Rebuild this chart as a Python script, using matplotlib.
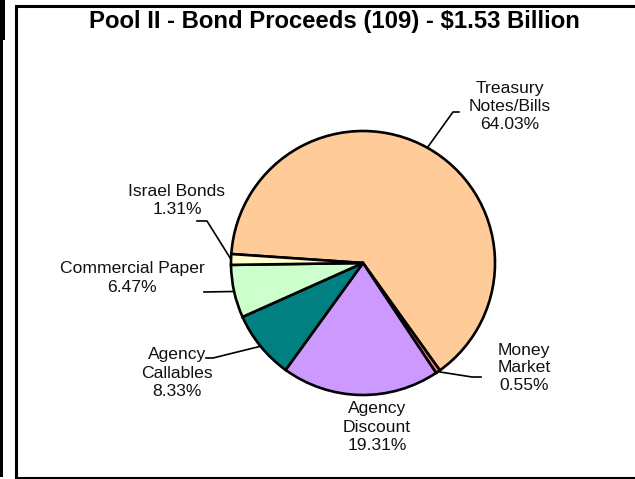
import numpy as np
import matplotlib
matplotlib.use("Agg")
import matplotlib.pyplot as plt
from matplotlib.patches import Rectangle

plt.rcParams['font.family'] = ['Liberation Sans', 'DejaVu Sans']

title = "Pool II - Bond Proceeds (109) - $1.53 Billion"
categories = ["Treasury\nNotes/Bills", "Money\nMarket", "Agency\nDiscount",
              "Agency\nCallables", "Commercial Paper", "Israel Bonds"]
shares = [64.03, 0.55, 19.31, 8.33, 6.47, 1.31]
colors = ["#FFCC99", "#FF8080", "#CC99FF", "#008080", "#CCFFCC", "#FFFFCC"]

W, H = 635, 479
fig = plt.figure(figsize=(W / 100, H / 100), dpi=100)
ax = fig.add_axes([0, 0, 1, 1])


def py(y):
    # pixel row (from top) to axis y
    return H - y


cx, cy, r = 363, py(263), 132
wedges, _ = ax.pie(shares, colors=colors, startangle=176.1, counterclock=False,
                   center=(cx, cy), radius=r, frame=True,
                   wedgeprops=dict(edgecolor='black', linewidth=1.9))
ax.set_xlim(0, W)
ax.set_ylim(0, H)
ax.set_aspect('equal')
ax.axis('off')

# frame pieces
ax.add_patch(Rectangle((0, py(40)), 5, 40, color='black', lw=0))
ax.add_patch(Rectangle((0, py(477)), 3, 437, color='black', lw=0))
ax.plot([16, 16, W + 5], [py(478), py(6), py(6)], color='black', lw=2.2,
        solid_joinstyle='miter')
ax.plot([16, W + 5], [py(478), py(478)], color='black', lw=2.2)

ax.text(334, py(21), title, ha='center', va='center', fontsize=17.2,
        fontweight='bold')


def edge_point(w):
    a = np.deg2rad((w.theta1 + w.theta2) / 2)
    return cx + r * np.cos(a), cy + r * np.sin(a)


def pct(v):
    return f"{v:.2f}%"


# label text centres (pixel coords) and leader elbows
label_pos = [(510, 106), (524, 368), (377, 427), (177, 373), (132, 278), (177, 200)]
elbows = [[(459, 112), (453, 112)],
          [(481, 377), (472, 377)],
          None,
          [(206, 358), (213, 358)],
          [(204, 292)],
          [(197, 221), (207, 221)]]

for w, name, v, (lx, ly), el in zip(wedges, categories, shares, label_pos, elbows):
    ax.text(lx, py(ly), f"{name}\n{pct(v)}", ha='center', va='center',
            fontsize=12.6, linespacing=1.25, color='#111111')
    if el:
        ex, ey = edge_point(w)
        xs = [p[0] for p in el] + [ex]
        ys = [py(p[1]) for p in el] + [ey]
        ax.plot(xs, ys, color='black', lw=1.2)

fig.savefig("out.png", dpi=100)
